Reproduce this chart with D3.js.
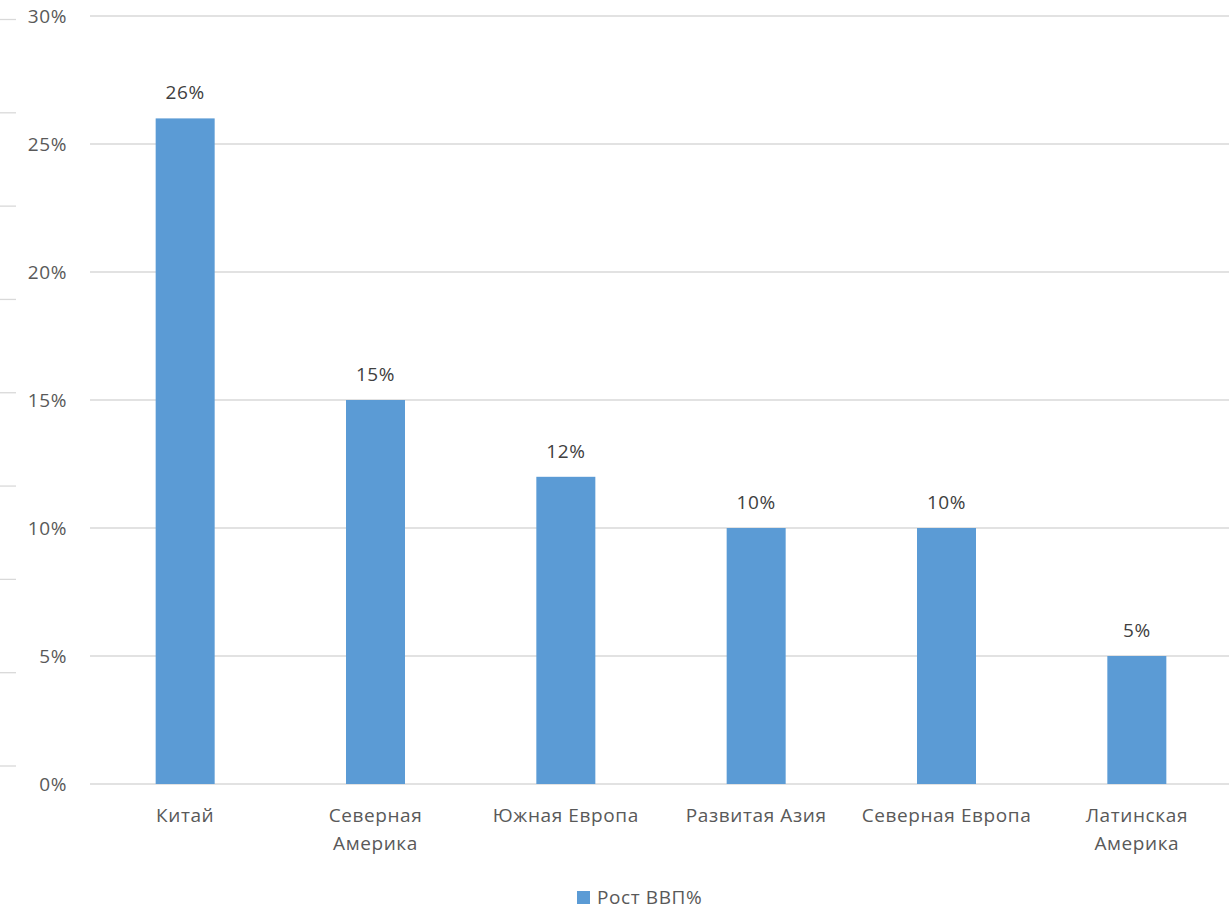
<!DOCTYPE html>
<html>
<head>
<meta charset="utf-8">
<script src="https://cdn.jsdelivr.net/npm/d3@7"></script>
<style>
  body { margin: 0; background: #fff; }
  svg { display: block; font-family: "Open Sans", sans-serif; }
  svg text { letter-spacing: 0.6px; }
</style>
</head>
<body>
<div id="plot"></div>
<script>
var categories = ["Китай", "Северная Америка", "Южная Европа", "Развитая Азия", "Северная Европа", "Латинская Америка"]
var values = [0.26, 0.15, 0.12, 0.10, 0.10, 0.05]
var yTicks = [0, 0.05, 0.10, 0.15, 0.20, 0.25, 0.30]
var seriesName = "Рост ВВП%"

var W = 1229, H = 909
var margin = { top: 16, left: 90, bottom: 125 }
var plotBottom = 784
var fontSize = "19px"

var svg = d3.select("#plot")
  .append("svg")
  .attr("width", W)
  .attr("height", H)

// stray gridline stubs at the far left edge (from a cropped chart behind)
var stubScale = d3.scaleLinear().domain([0, 8]).range([766, 19.5])
svg.append("g")
  .selectAll("line")
  .data(d3.range(9))
  .enter().append("line")
    .attr("x1", 0).attr("x2", 16)
    .attr("y1", d => stubScale(d)).attr("y2", d => stubScale(d))
    .attr("stroke", "#d9d9d9")
    .attr("stroke-width", 1.3)

var xScale = d3.scaleBand()
  .domain(categories)
  .range([margin.left, 1232])
  .paddingInner(0.69)
  .paddingOuter(0.345)

var yScale = d3.scaleLinear()
  .domain([0, 0.30])
  .range([plotBottom, margin.top])

// gridlines
svg.append("g")
  .selectAll("line")
  .data(yTicks)
  .enter().append("line")
    .attr("x1", margin.left)
    .attr("x2", W)
    .attr("y1", d => yScale(d))
    .attr("y2", d => yScale(d))
    .attr("stroke", "#d9d9d9")
    .attr("stroke-width", 1.3)

// y labels
svg.append("g")
  .selectAll("text")
  .data(yTicks)
  .enter().append("text")
    .attr("x", 67)
    .attr("y", d => yScale(d))
    .attr("dy", "0.35em")
    .attr("text-anchor", "end")
    .attr("fill", "#595959")
    .style("font-size", fontSize)
    .text(d => d3.format(".0%")(d))

// bars
svg.append("g")
  .selectAll("rect")
  .data(values)
  .enter().append("rect")
    .attr("x", (d, i) => xScale(categories[i]))
    .attr("width", xScale.bandwidth())
    .attr("y", d => yScale(d))
    .attr("height", d => plotBottom - yScale(d))
    .attr("fill", "#5b9bd5")

// value labels
svg.append("g")
  .selectAll("text")
  .data(values)
  .enter().append("text")
    .attr("x", (d, i) => xScale(categories[i]) + xScale.bandwidth() / 2)
    .attr("y", d => yScale(d) - 19)
    .attr("text-anchor", "middle")
    .attr("fill", "#404040")
    .style("font-size", fontSize)
    .text(d => d3.format(".0%")(d))

// category labels, wrap two-word names that don't fit
var wrapNames = ["Северная Америка", "Латинская Америка"]
var catG = svg.append("g")
categories.forEach(function (c) {
  var lines = wrapNames.indexOf(c) >= 0 ? c.split(" ") : [c]
  var t = catG.append("text")
    .attr("x", xScale(c) + xScale.bandwidth() / 2)
    .attr("y", 822)
    .attr("text-anchor", "middle")
    .attr("fill", "#595959")
    .style("font-size", fontSize)
  lines.forEach(function (l, i) {
    t.append("tspan")
      .attr("x", xScale(c) + xScale.bandwidth() / 2)
      .attr("dy", i == 0 ? 0 : 28)
      .text(l)
  })
})

// legend
var legend = svg.append("g")
legend.append("rect")
  .attr("x", 577).attr("y", 891)
  .attr("width", 13).attr("height", 13)
  .attr("fill", "#5b9bd5")
legend.append("text")
  .attr("x", 597)
  .attr("y", 904)
  .attr("fill", "#595959")
  .style("font-size", fontSize)
  .text(seriesName)
</script>
</body>
</html>
